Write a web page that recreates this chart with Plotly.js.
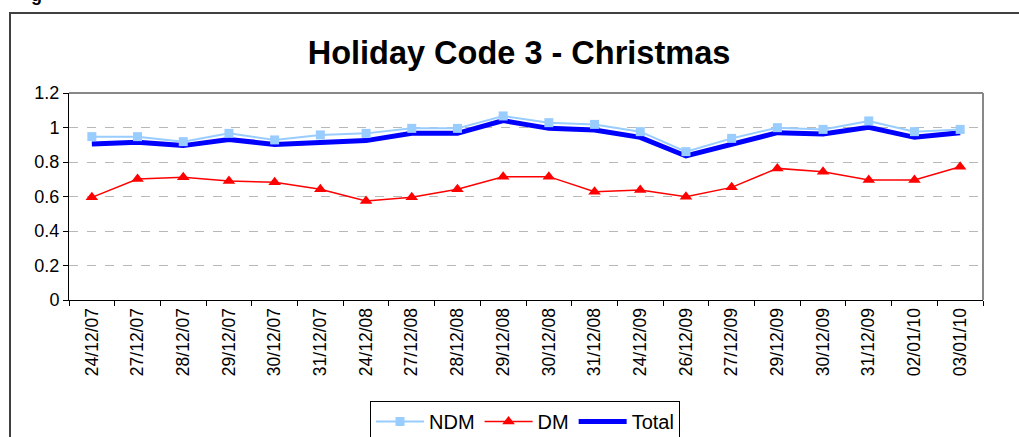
<!DOCTYPE html>
<html>
<head>
<meta charset="utf-8">
<script src="https://cdn.plot.ly/plotly-3.0.1.min.js"></script>
<style>html,body{margin:0;padding:0;background:#fff;}#chart{width:1019px;height:437px;}</style>
</head>
<body>
<div id="chart"></div>
<script>
var dates = ["24/12/07","27/12/07","28/12/07","29/12/07","30/12/07","31/12/07","24/12/08","27/12/08","28/12/08","29/12/08","30/12/08","31/12/08","24/12/09","26/12/09","27/12/09","29/12/09","30/12/09","31/12/09","02/01/10","03/01/10"];
var ndm = [0.947,0.947,0.918,0.966,0.928,0.957,0.966,0.995,0.995,1.067,1.028,1.018,0.976,0.860,0.937,0.999,0.989,1.038,0.976,0.989];
var dm = [0.595,0.701,0.711,0.690,0.682,0.642,0.574,0.595,0.642,0.715,0.715,0.628,0.638,0.599,0.653,0.763,0.744,0.696,0.696,0.773];
var total = [0.904,0.914,0.895,0.931,0.902,0.912,0.924,0.966,0.966,1.040,0.995,0.986,0.943,0.835,0.899,0.970,0.962,1.001,0.943,0.970];
var yTicks = [0,0.2,0.4,0.6,0.8,1,1.2];
var titleText = "Holiday Code 3 - Christmas";

var FONT = "Liberation Sans, Arial, sans-serif";
var W = 1019, H = 437, ML = 69, MR = 36, MT = 93, MB = 137;
var PW = W - ML - MR, PH = H - MT - MB;
function px(x){ return (x - ML) / PW; }
function py(y){ return (H - MB - y) / PH; }

var traces = [
  {x: dates, y: total, name: "Total", type: "scatter", mode: "lines",
   line: {color: "#0000FF", width: 5}, legendrank: 3},
  {x: dates, y: dm, name: "DM", type: "scatter", mode: "lines+markers",
   line: {color: "#FF0000", width: 1.5},
   marker: {symbol: "triangle-up", size: 11, color: "#FF0000"}, legendrank: 2},
  {x: dates, y: ndm, name: "NDM", type: "scatter", mode: "lines+markers",
   line: {color: "#99CCFF", width: 2},
   marker: {symbol: "square", size: 9, color: "#99CCFF"}, legendrank: 1}
];

var layout = {
  width: W, height: H,
  margin: {l: ML, r: MR, t: MT, b: MB, pad: 0, autoexpand: false},
  paper_bgcolor: "#ffffff", plot_bgcolor: "#ffffff",
  font: {family: FONT, color: "#000000"},
  title: {text: "<b>" + titleText + "</b>", font: {family: FONT, size: 32.5, color: "#000"},
          x: px(519), xanchor: "center", xref: "paper", y: 1 - 64/H, yanchor: "bottom", yref: "container",
          automargin: false},
  showlegend: true,
  legend: {orientation: "h", x: px(525), xanchor: "center", y: py(401), yanchor: "top",
           bordercolor: "#000", borderwidth: 1, font: {family: FONT, size: 20, color: "#000"},
           bgcolor: "#fff", traceorder: "normal", itemwidth: 48},
  xaxis: {type: "category", range: [-0.5, dates.length - 0.5], autorange: false,
          showline: true, linecolor: "#000", linewidth: 1, automargin: false,
          ticks: "outside", ticklen: 5, tickcolor: "#000", tickson: "boundaries",
          tickangle: -90, tickfont: {family: FONT, size: 17.5, color: "#000"},
          showgrid: false, zeroline: false, fixedrange: true},
  yaxis: {range: [0, 1.2], autorange: false, tickvals: yTicks, ticktext: yTicks.map(String), automargin: false,
          showline: true, linecolor: "#000", linewidth: 1,
          ticks: "outside", ticklen: 5, tickcolor: "#000",
          tickfont: {family: FONT, size: 18, color: "#000"},
          showgrid: true, gridcolor: "#b8b8b8", griddash: "dash", gridwidth: 1,
          zeroline: false, fixedrange: true},
  shapes: [
    {type: "line", xref: "paper", yref: "paper", x0: 0, x1: 1, y0: 1, y1: 1,
     line: {color: "#888888", width: 2}},
    {type: "line", xref: "paper", yref: "paper", x0: 1, x1: 1, y0: 0, y1: 1,
     line: {color: "#888888", width: 2}},
    {type: "rect", xref: "paper", yref: "paper", x0: px(10), x1: px(1040), y0: py(13), y1: py(460),
     line: {color: "#404040", width: 2}, fillcolor: "rgba(0,0,0,0)", layer: "below"}
  ],
  annotations: [
    {text: "<b>g</b>", xref: "paper", yref: "paper", x: px(36), y: py(7), xanchor: "center", yanchor: "bottom",
     showarrow: false, font: {family: FONT, size: 18, color: "#000"}}
  ]
};

Plotly.newPlot("chart", traces, layout, {displayModeBar: false, staticPlot: true});
</script>
</body>
</html>
